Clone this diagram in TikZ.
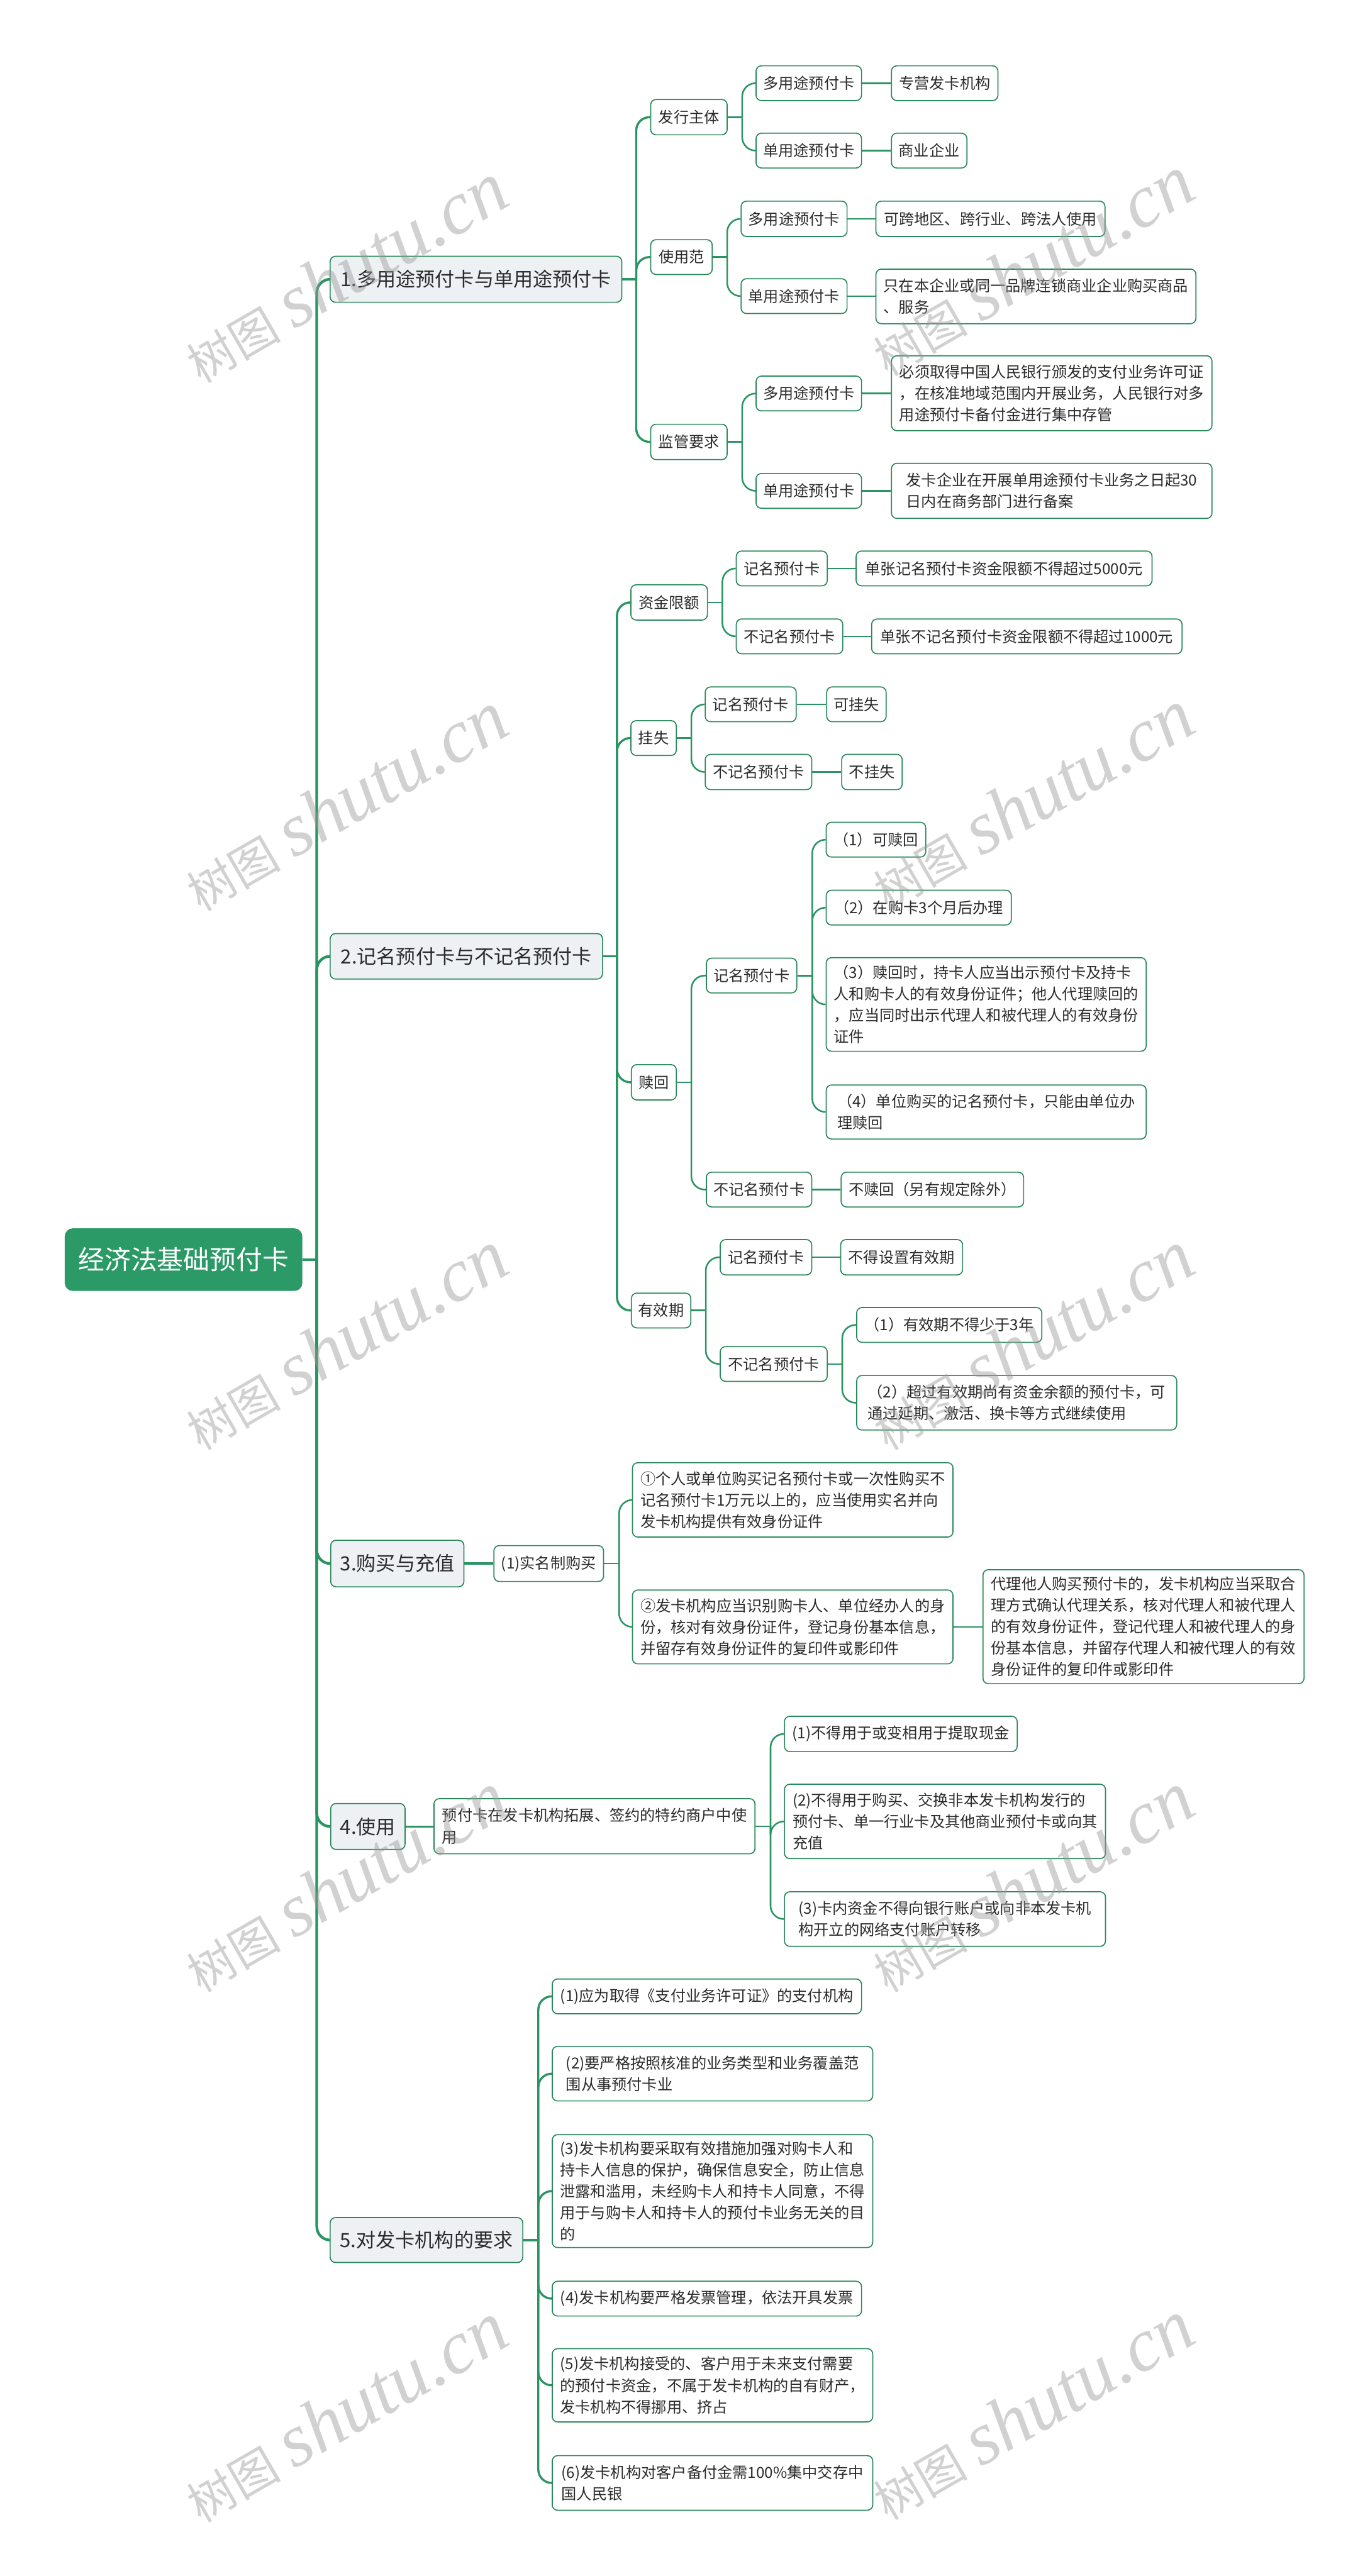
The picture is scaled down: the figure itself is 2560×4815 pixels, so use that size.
\documentclass[tikz,border=0pt]{standalone}
\usepackage{fontspec}
\newfontfamily\cjk{Noto Sans CJK SC}
\newfontfamily\wmserif{Liberation Serif}
\definecolor{lg}{HTML}{2A9463}
\definecolor{bd}{HTML}{2B8A5C}
\definecolor{rootfill}{HTML}{2B9A67}
\definecolor{secfill}{HTML}{EDF1F4}
\definecolor{txt}{HTML}{2B2B2B}
\pgfdeclarelayer{bottom}
\pgfdeclarelayer{background}
\pgfsetlayers{bottom,background,main}
\newcommand\bx[7]{\node[#6, minimum width={(#4-#2)*0.1mm}, minimum height={(#5-#3)*0.1mm}] (#1) at ({(#2+#4)/2},{(#3+#5)/2}) {#7};}
\begin{document}
\begin{tikzpicture}[x=0.1mm,y=-0.1mm,
  base/.style={draw=bd, line width=0.2mm, rounded corners=1mm, inner sep=0pt, align=left, text=txt, fill=white, font=\cjk\fontsize{8.1}{11.4}\selectfont},
  rootbox/.style={base, fill=rootfill, draw=rootfill, text=white, rounded corners=1.4mm, font=\cjk\fontsize{14}{17}\selectfont},
  secbox/.style={base, fill=secfill, font=\cjk\fontsize{10.4}{13}\selectfont},
  conn/.style={draw=lg, line width=0.3mm, rounded corners=2.5mm},
  conna/.style={conn, line width=0.4mm},
  trunk/.style={conn, line width=0.5mm},
  wm/.style={rotate=30, text=black!40, text opacity=0.45, inner sep=0pt}
]
\begin{pgfonlayer}{bottom}
\fill[white] (0,0) rectangle (2560,4815);
\end{pgfonlayer}
\useasboundingbox (0,0) rectangle (2560,4815);

% root
\bx{root}{122}{2297}{564}{2412}{rootbox}{经济法基础预付卡}

% section 1
\bx{s1}{617}{479}{1162}{565}{secbox}{1.多用途预付卡与单用途预付卡}
\bx{a1}{1216}{186}{1359}{252}{base}{发行主体}
\bx{a11}{1413}{123}{1610}{188}{base}{多用途预付卡}
\bx{a111}{1666}{123}{1865}{188}{base}{专营发卡机构}
\bx{a12}{1413}{249}{1610}{314}{base}{单用途预付卡}
\bx{a121}{1666}{249}{1807}{314}{base}{商业企业}
\bx{a2}{1216}{448}{1331}{513}{base}{使用范}
\bx{a21}{1385}{376}{1583}{442}{base}{多用途预付卡}
\bx{a211}{1637}{376}{2065}{442}{base}{可跨地区、跨行业、跨法人使用}
\bx{a22}{1385}{521}{1583}{586}{base}{单用途预付卡}
\bx{a221}{1637}{503}{2235}{605}{base}{只在本企业或同一品牌连锁商业企业购买商品\\、服务}
\bx{a3}{1216}{793}{1359}{859}{base}{监管要求}
\bx{a31}{1413}{703}{1610}{768}{base}{多用途预付卡}
\bx{a311}{1666}{665}{2265}{805}{base}{必须取得中国人民银行颁发的支付业务许可证\\，在核准地域范围内开展业务，人民银行对多\\用途预付卡备付金进行集中存管}
\bx{a32}{1413}{885}{1610}{950}{base}{单用途预付卡}
\bx{a321}{1666}{866}{2265}{969}{base}{发卡企业在开展单用途预付卡业务之日起30\\日内在商务部门进行备案}

% section 2
\bx{s2}{617}{1745}{1126}{1830}{secbox}{2.记名预付卡与不记名预付卡}
\bx{b1}{1179}{1093}{1322}{1159}{base}{资金限额}
\bx{b11}{1376}{1030}{1546}{1095}{base}{记名预付卡}
\bx{b111}{1600}{1030}{2153}{1095}{base}{单张记名预付卡资金限额不得超过5000元}
\bx{b12}{1376}{1157}{1575}{1222}{base}{不记名预付卡}
\bx{b121}{1629}{1157}{2209}{1222}{base}{单张不记名预付卡资金限额不得超过1000元}
\bx{b2}{1179}{1347}{1264}{1412}{base}{挂失}
\bx{b21}{1318}{1284}{1488}{1349}{base}{记名预付卡}
\bx{b211}{1545}{1284}{1656}{1349}{base}{可挂失}
\bx{b22}{1318}{1410}{1517}{1476}{base}{不记名预付卡}
\bx{b221}{1573}{1410}{1686}{1476}{base}{不挂失}
\bx{b3}{1180}{1990}{1264}{2056}{base}{赎回}
\bx{b31}{1320}{1791}{1489}{1856}{base}{记名预付卡}
\bx{b311}{1544}{1537}{1730}{1602}{base}{（1）可赎回}
\bx{b312}{1544}{1664}{1890}{1729}{base}{（2）在购卡3个月后办理}
\bx{b313}{1544}{1790}{2142}{1965}{base}{（3）赎回时，持卡人应当出示预付卡及持卡\\人和购卡人的有效身份证件；他人代理赎回的\\，应当同时出示代理人和被代理人的有效身份\\证件}
\bx{b314}{1544}{2028}{2142}{2129}{base}{（4）单位购买的记名预付卡，只能由单位办\\理赎回}
\bx{b32}{1320}{2191}{1517}{2256}{base}{不记名预付卡}
\bx{b321}{1572}{2191}{1913}{2256}{base}{不赎回（另有规定除外）}
\bx{b4}{1180}{2417}{1291}{2482}{base}{有效期}
\bx{b41}{1346}{2317}{1517}{2383}{base}{记名预付卡}
\bx{b411}{1571}{2317}{1799}{2383}{base}{不得设置有效期}
\bx{b42}{1346}{2517}{1546}{2582}{base}{不记名预付卡}
\bx{b421}{1601}{2444}{1947}{2509}{base}{（1）有效期不得少于3年}
\bx{b422}{1601}{2571}{2199}{2673}{base}{（2）超过有效期尚有资金余额的预付卡，可\\通过延期、激活、换卡等方式继续使用}

% section 3
\bx{s3}{618}{2879}{867}{2966}{secbox}{3.购买与充值}
\bx{c1}{923}{2889}{1128}{2956}{base}{(1)实名制购买}
\bx{c11}{1182}{2734}{1781}{2873}{base}{①个人或单位购买记名预付卡或一次性购买不\\记名预付卡1万元以上的，应当使用实名并向\\发卡机构提供有效身份证件}
\bx{c12}{1182}{2972}{1781}{3110}{base}{②发卡机构应当识别购卡人、单位经办人的身\\份，核对有效身份证件，登记身份基本信息，\\并留存有效身份证件的复印件或影印件}
\bx{c121}{1837}{2934}{2437}{3147}{base}{代理他人购买预付卡的，发卡机构应当采取合\\理方式确认代理关系，核对代理人和被代理人\\的有效身份证件，登记代理人和被代理人的身\\份基本信息，并留存代理人和被代理人的有效\\身份证件的复印件或影印件}

% section 4
\bx{s4}{618}{3371}{757}{3457}{secbox}{4.使用}
\bx{d1}{811}{3362}{1411}{3465}{base}{预付卡在发卡机构拓展、签约的特约商户中使\\用}
\bx{d11}{1466}{3208}{1901}{3274}{base}{(1)不得用于或变相用于提取现金}
\bx{d12}{1466}{3335}{2066}{3474}{base}{(2)不得用于购买、交换非本发卡机构发行的\\预付卡、单一行业卡及其他商业预付卡或向其\\充值}
\bx{d13}{1466}{3536}{2066}{3638}{base}{(3)卡内资金不得向银行账户或向非本发卡机\\构开立的网络支付账户转移}

% section 5
\bx{s5}{617}{4145}{977}{4229}{secbox}{5.对发卡机构的要求}
\bx{e1}{1032}{3699}{1610}{3764}{base}{(1)应为取得《支付业务许可证》的支付机构}
\bx{e2}{1032}{3825}{1631}{3927}{base}{(2)要严格按照核准的业务类型和业务覆盖范\\围从事预付卡业}
\bx{e3}{1032}{3990}{1631}{4201}{base}{(3)发卡机构要采取有效措施加强对购卡人和\\持卡人信息的保护，确保信息安全，防止信息\\泄露和滥用，未经购卡人和持卡人同意，不得\\用于与购卡人和持卡人的预付卡业务无关的目\\的}
\bx{e4}{1032}{4264}{1610}{4329}{base}{(4)发卡机构要严格发票管理，依法开具发票}
\bx{e5}{1032}{4390}{1631}{4527}{base}{(5)发卡机构接受的、客户用于未来支付需要\\的预付卡资金，不属于发卡机构的自有财产，\\发卡机构不得挪用、挤占}
\bx{e6}{1032}{4590}{1631}{4692}{base}{(6)发卡机构对客户备付金需100\%集中交存中\\国人民银}

\begin{pgfonlayer}{background}
% trunk
\draw[trunk] (root.east) -- ++(27,0) coordinate (rootj);
\foreach \c in {s1,s2,s3,s4,s5} \draw[trunk] (rootj) |- (\c.west);
% section-level branches
\draw[conna] (s1.east) -- ++(26,0) coordinate (s1j);
\foreach \c in {a1,a2,a3} \draw[conna] (s1j) |- (\c.west);
\draw[conna] (s2.east) -- ++(26,0) coordinate (s2j);
\foreach \c in {b1,b2,b3,b4} \draw[conna] (s2j) |- (\c.west);
\draw[conna] (s3.east) -- (s3.east -| c1.west);
\draw[conna] (s4.east) -- (s4.east -| d1.west);
\draw[conna] (s5.east) -- ++(28,0) coordinate (s5j);
\foreach \c in {e1,e2,e3,e4,e5,e6} \draw[conna] (s5j) |- (\c.west);
% deeper branches
\draw[conn] (a1.east) -- ++(27,0) coordinate (a1j);
\foreach \c in {a11,a12} \draw[conn] (a1j) |- (\c.west);
\draw[conn] (a2.east) -- ++(27,0) coordinate (a2j);
\foreach \c in {a21,a22} \draw[conn] (a2j) |- (\c.west);
\draw[conn] (a3.east) -- ++(27,0) coordinate (a3j);
\foreach \c in {a31,a32} \draw[conn] (a3j) |- (\c.west);
\draw[conn] (b1.east) -- ++(27,0) coordinate (b1j);
\foreach \c in {b11,b12} \draw[conn] (b1j) |- (\c.west);
\draw[conn] (b2.east) -- ++(27,0) coordinate (b2j);
\foreach \c in {b21,b22} \draw[conn] (b2j) |- (\c.west);
\draw[conn] (b3.east) -- ++(27,0) coordinate (b3j);
\foreach \c in {b31,b32} \draw[conn] (b3j) |- (\c.west);
\draw[conn] (b31.east) -- ++(28,0) coordinate (b31j);
\foreach \c in {b311,b312,b313,b314} \draw[conn] (b31j) |- (\c.west);
\draw[conn] (b4.east) -- ++(27,0) coordinate (b4j);
\foreach \c in {b41,b42} \draw[conn] (b4j) |- (\c.west);
\draw[conn] (b42.east) -- ++(27,0) coordinate (b42j);
\foreach \c in {b421,b422} \draw[conn] (b42j) |- (\c.west);
\draw[conn] (c1.east) -- ++(28,0) coordinate (c1j);
\foreach \c in {c11,c12} \draw[conn] (c1j) |- (\c.west);
\draw[conn] (d1.east) -- ++(28,0) coordinate (d1j);
\foreach \c in {d11,d12,d13} \draw[conn] (d1j) |- (\c.west);
% single-child links
\foreach \p/\c in {a11/a111,a12/a121,a21/a211,a22/a221,a31/a311,a32/a321,b11/b111,b12/b121,b21/b211,b22/b221,b32/b321,b41/b411,c12/c121}
  \draw[conn] (\p.east) -- (\p.east -| \c.west);
\end{pgfonlayer}

% watermarks
\foreach \wx/\wy in {645/510,1928/497,645/1498,1928/1495,645/2505,1928/2505,645/3518,1928/3518,645/4509,1928/4505}
  \node[wm] at (\wx,\wy) {{\cjk\fontsize{25}{25}\selectfont 树图}\hspace{2.5mm}{\wmserif\itshape\fontsize{40}{40}\selectfont shutu.cn}};
\end{tikzpicture}
\end{document}
